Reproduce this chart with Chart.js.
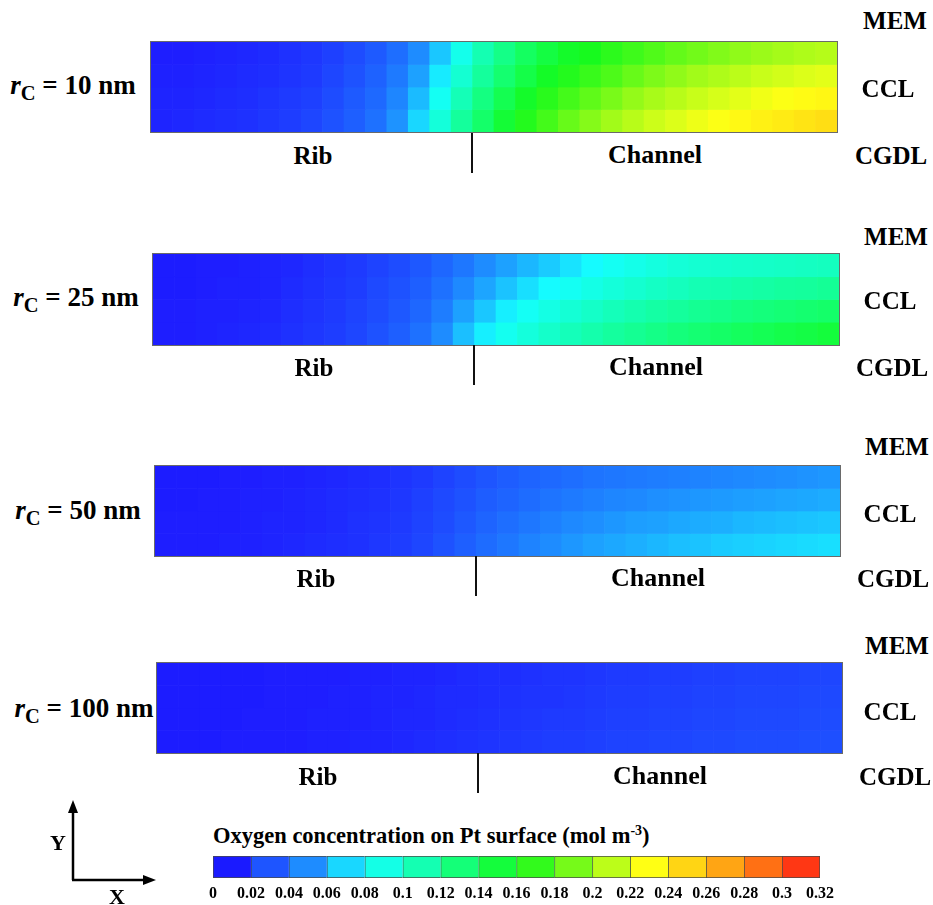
<!DOCTYPE html>
<html>
<head>
<meta charset="utf-8">
<script src="https://cdn.jsdelivr.net/npm/chart.js@4.4.0/dist/chart.umd.min.js"></script>
<style>
  body { margin: 0; background: #fff; width: 933px; height: 905px; position: relative; overflow: hidden;
         font-family: 'Liberation Serif', 'Times New Roman', serif; font-weight: bold; color: #000; }
  .t { position: absolute; transform: translate(-50%, -50%); white-space: nowrap; font-size: 25px; line-height: 1; }
  .t.lab { font-size: 27px; }
  .t sub { font-size: 0.76em; vertical-align: -0.3em; }
  .t.ch { font-size: 26px; }
  .strip { position: absolute; outline: 1px solid #6a6a6a; }
  .strip canvas { display: block; }
  .tick { position: absolute; width: 1.5px; height: 40px; background: #111; }
  #title { position: absolute; left: 213px; top: 823px; font-size: 22.5px; white-space: nowrap; }
  #title sup { font-size: 0.62em; vertical-align: 0.6em; line-height: 0; }
  #cbar { position: absolute; left: 193px; top: 850px; }
  #axes { position: absolute; left: 0; top: 0; }
</style>
</head>
<body>

<!-- strip 1 -->
<div class="t lab" style="left:73px;top:88px"><i>r</i><sub>C</sub> = 10 nm</div>
<div class="strip" style="left:151px;top:42px;width:686px;height:90px"><canvas id="s10" width="686" height="90"></canvas></div>
<div class="tick" style="left:471px;top:133px"></div>
<div class="t" style="left:313px;top:155px">Rib</div>
<div class="t ch" style="left:655px;top:155px">Channel</div>
<div class="t" style="left:895px;top:20px">MEM</div>
<div class="t" style="left:888px;top:88px">CCL</div>
<div class="t" style="left:891px;top:155px">CGDL</div>

<!-- strip 2 -->
<div class="t lab" style="left:76px;top:300px"><i>r</i><sub>C</sub> = 25 nm</div>
<div class="strip" style="left:153px;top:254px;width:686px;height:91px"><canvas id="s25" width="686" height="91"></canvas></div>
<div class="tick" style="left:473px;top:345px"></div>
<div class="t" style="left:314px;top:367px">Rib</div>
<div class="t ch" style="left:656px;top:367px">Channel</div>
<div class="t" style="left:896px;top:236px">MEM</div>
<div class="t" style="left:890px;top:300px">CCL</div>
<div class="t" style="left:892px;top:367px">CGDL</div>

<!-- strip 3 -->
<div class="t lab" style="left:78px;top:513px"><i>r</i><sub>C</sub> = 50 nm</div>
<div class="strip" style="left:155px;top:466px;width:685px;height:90px"><canvas id="s50" width="685" height="90"></canvas></div>
<div class="tick" style="left:475px;top:556px"></div>
<div class="t" style="left:316px;top:578px">Rib</div>
<div class="t ch" style="left:658px;top:578px">Channel</div>
<div class="t" style="left:897px;top:446px">MEM</div>
<div class="t" style="left:890px;top:513px">CCL</div>
<div class="t" style="left:893px;top:578px">CGDL</div>

<!-- strip 4 -->
<div class="t lab" style="left:84px;top:711px"><i>r</i><sub>C</sub> = 100 nm</div>
<div class="strip" style="left:157px;top:663px;width:685px;height:90px"><canvas id="s100" width="685" height="90"></canvas></div>
<div class="tick" style="left:477px;top:753px"></div>
<div class="t" style="left:318px;top:776px">Rib</div>
<div class="t ch" style="left:660px;top:776px">Channel</div>
<div class="t" style="left:897px;top:645px">MEM</div>
<div class="t" style="left:890px;top:711px">CCL</div>
<div class="t" style="left:895px;top:776px">CGDL</div>

<!-- coordinate indicator -->
<svg id="axes" width="200" height="905">
  <line x1="73" y1="880" x2="73" y2="810" stroke="#000" stroke-width="2.5"/>
  <polygon points="73,800 68,813 78,813" fill="#000"/>
  <line x1="72" y1="880" x2="146" y2="880" stroke="#000" stroke-width="2.5"/>
  <polygon points="156,880 143,875 143,885" fill="#000"/>
</svg>
<div class="t" style="left:58px;top:843px;font-size:22px">Y</div>
<div class="t" style="left:117px;top:897px;font-size:22px">X</div>

<div id="title">Oxygen concentration on Pt surface (mol m<sup>-3</sup>)</div>
<canvas id="cbar" width="650" height="56"></canvas>

<script>
// normalised position of each column centre across rib + channel
const columnX = [0.016, 0.047, 0.078, 0.109, 0.141, 0.172, 0.203, 0.234, 0.266, 0.297, 0.328, 0.359,
                 0.391, 0.422, 0.453, 0.484, 0.516, 0.547, 0.578, 0.609, 0.641, 0.672, 0.703, 0.734,
                 0.766, 0.797, 0.828, 0.859, 0.891, 0.922, 0.953, 0.984];
// row edges across the CCL thickness, CGDL side (0) to MEM side (1)
const rowEdges = [0, 0.25, 0.5, 0.75, 1];

// O2 concentration (mol m-3), rows listed MEM side first, CGDL side last
const o2_r10 = [
  [0.012,0.012,0.013,0.014,0.015,0.016,0.018,0.020,0.023,0.027,0.032,0.040,0.050,0.066,0.088,0.110,0.125,0.138,0.148,0.156,0.161,0.168,0.174,0.180,0.185,0.189,0.193,0.197,0.200,0.203,0.206,0.208],
  [0.013,0.013,0.014,0.015,0.016,0.017,0.019,0.021,0.025,0.029,0.035,0.044,0.056,0.075,0.098,0.118,0.133,0.146,0.157,0.165,0.172,0.179,0.186,0.192,0.197,0.202,0.206,0.210,0.214,0.217,0.220,0.222],
  [0.014,0.014,0.015,0.016,0.017,0.019,0.021,0.023,0.027,0.032,0.038,0.048,0.063,0.085,0.108,0.127,0.143,0.156,0.167,0.176,0.184,0.191,0.198,0.204,0.209,0.214,0.218,0.222,0.226,0.229,0.232,0.234],
  [0.014,0.015,0.016,0.017,0.018,0.020,0.022,0.025,0.029,0.034,0.041,0.052,0.070,0.095,0.118,0.135,0.152,0.165,0.176,0.186,0.194,0.202,0.209,0.215,0.220,0.225,0.229,0.233,0.237,0.240,0.243,0.246]
];
const o2_r25 = [
  [0.011,0.011,0.012,0.012,0.013,0.014,0.015,0.017,0.019,0.021,0.024,0.027,0.031,0.037,0.043,0.050,0.056,0.062,0.067,0.073,0.079,0.085,0.089,0.093,0.096,0.098,0.100,0.101,0.102,0.103,0.104,0.105],
  [0.011,0.011,0.012,0.013,0.013,0.014,0.016,0.018,0.020,0.022,0.026,0.029,0.034,0.041,0.049,0.057,0.065,0.072,0.079,0.085,0.090,0.095,0.099,0.103,0.106,0.109,0.111,0.113,0.115,0.117,0.118,0.120],
  [0.012,0.012,0.013,0.013,0.014,0.015,0.017,0.019,0.021,0.024,0.027,0.031,0.037,0.045,0.056,0.066,0.076,0.084,0.091,0.097,0.102,0.107,0.111,0.115,0.118,0.121,0.124,0.127,0.129,0.131,0.133,0.135],
  [0.012,0.012,0.013,0.014,0.015,0.016,0.018,0.020,0.022,0.025,0.029,0.034,0.041,0.050,0.064,0.076,0.086,0.094,0.101,0.107,0.112,0.117,0.121,0.125,0.129,0.132,0.136,0.139,0.142,0.145,0.147,0.150]
];
const o2_r50 = [
  [0.011,0.011,0.011,0.012,0.012,0.013,0.013,0.014,0.015,0.016,0.017,0.019,0.021,0.024,0.027,0.030,0.033,0.036,0.038,0.040,0.042,0.043,0.044,0.045,0.046,0.047,0.048,0.049,0.050,0.051,0.052,0.053],
  [0.011,0.011,0.012,0.012,0.013,0.013,0.014,0.015,0.016,0.017,0.018,0.020,0.023,0.026,0.029,0.033,0.036,0.039,0.042,0.044,0.046,0.048,0.049,0.051,0.052,0.053,0.054,0.055,0.056,0.057,0.058,0.059],
  [0.012,0.012,0.012,0.012,0.013,0.014,0.014,0.015,0.016,0.018,0.019,0.021,0.024,0.027,0.031,0.036,0.040,0.043,0.046,0.049,0.051,0.053,0.055,0.056,0.058,0.059,0.060,0.062,0.063,0.064,0.065,0.066],
  [0.012,0.012,0.012,0.013,0.013,0.014,0.015,0.016,0.017,0.018,0.020,0.022,0.025,0.029,0.034,0.039,0.043,0.047,0.050,0.053,0.056,0.058,0.060,0.062,0.064,0.065,0.067,0.068,0.069,0.070,0.071,0.072]
];
const o2_r100 = [
  [0.011,0.011,0.011,0.011,0.011,0.012,0.012,0.012,0.012,0.013,0.013,0.014,0.014,0.015,0.016,0.017,0.017,0.018,0.019,0.019,0.020,0.021,0.021,0.022,0.022,0.023,0.023,0.024,0.024,0.024,0.025,0.025],
  [0.011,0.011,0.011,0.011,0.011,0.012,0.012,0.012,0.013,0.013,0.014,0.014,0.015,0.016,0.016,0.017,0.018,0.019,0.019,0.020,0.021,0.022,0.022,0.023,0.023,0.024,0.024,0.025,0.025,0.025,0.026,0.026],
  [0.011,0.011,0.011,0.011,0.012,0.012,0.012,0.013,0.013,0.013,0.014,0.015,0.015,0.016,0.017,0.018,0.019,0.020,0.021,0.021,0.022,0.023,0.023,0.024,0.024,0.025,0.025,0.026,0.026,0.026,0.027,0.027],
  [0.011,0.011,0.011,0.012,0.012,0.012,0.012,0.013,0.013,0.014,0.014,0.015,0.016,0.017,0.018,0.019,0.020,0.021,0.022,0.022,0.023,0.024,0.024,0.025,0.025,0.026,0.026,0.027,0.027,0.027,0.028,0.028]
];

// colour bar levels
const cbLevels = [0, 0.02, 0.04, 0.06, 0.08, 0.1, 0.12, 0.14, 0.16, 0.18, 0.2, 0.22, 0.24, 0.26, 0.28, 0.3, 0.32];

// rainbow colour map (value -> rgb)
const cmap = [
  [0.000, 5, 5, 255], [0.012, 30, 30, 255], [0.020, 30, 55, 255], [0.030, 30, 85, 255],
  [0.040, 30, 110, 255], [0.050, 30, 140, 255], [0.060, 28, 175, 255], [0.070, 25, 215, 255],
  [0.080, 20, 255, 255], [0.100, 20, 255, 205], [0.120, 20, 255, 150], [0.140, 20, 255, 90],
  [0.160, 20, 250, 30], [0.180, 80, 250, 25], [0.200, 155, 250, 25], [0.220, 220, 255, 25],
  [0.230, 255, 255, 20], [0.240, 255, 235, 20], [0.260, 255, 190, 20], [0.280, 255, 140, 20],
  [0.300, 255, 85, 20], [0.320, 255, 25, 20]
];
function colorOf(v) {
  if (v <= cmap[0][0]) return `rgb(${cmap[0][1]},${cmap[0][2]},${cmap[0][3]})`;
  for (let i = 1; i < cmap.length; i++) {
    if (v <= cmap[i][0]) {
      const a = cmap[i - 1], b = cmap[i];
      const f = (v - a[0]) / (b[0] - a[0]);
      const c = [1, 2, 3].map(k => Math.round(a[k] + (b[k] - a[k]) * f));
      return `rgb(${c[0]},${c[1]},${c[2]})`;
    }
  }
  const l = cmap[cmap.length - 1];
  return `rgb(${l[1]},${l[2]},${l[3]})`;
}

function drawStrip(id, grid) {
  const n = grid.length;
  const datasets = grid.map((row, k) => {
    const r = n - 1 - k;
    return {
      data: row.map(() => [rowEdges[r], rowEdges[r + 1]]),
      backgroundColor: row.map(v => colorOf(v)),
      borderWidth: 0,
      barPercentage: 1,
      categoryPercentage: 1,
      grouped: false
    };
  });
  new Chart(document.getElementById(id), {
    type: 'bar',
    data: { labels: columnX, datasets: datasets },
    options: {
      responsive: false,
      animation: false,
      events: [],
      layout: { padding: 0 },
      plugins: { legend: { display: false }, tooltip: { enabled: false } },
      scales: {
        x: { display: false },
        y: { display: false, min: 0, max: 1 }
      }
    }
  });
}

drawStrip('s10', o2_r10);
drawStrip('s25', o2_r25);
drawStrip('s50', o2_r50);
drawStrip('s100', o2_r100);

// colour bar
const cbSets = cbLevels.slice(0, -1).map((lo, i) => {
  const hi = cbLevels[i + 1];
  return {
    data: [[lo, hi]],
    backgroundColor: colorOf((lo + hi) / 2),
    borderColor: '#4a4a4a',
    borderWidth: { top: 1, bottom: 1, left: 1, right: i === cbLevels.length - 2 ? 1 : 0 },
    borderSkipped: false,
    barPercentage: 1,
    categoryPercentage: 1,
    grouped: false
  };
});
new Chart(document.getElementById('cbar'), {
  type: 'bar',
  data: { labels: ['O2'], datasets: cbSets },
  options: {
    indexAxis: 'y',
    responsive: false,
    animation: false,
    events: [],
    layout: { padding: { left: 20, right: 23, top: 6, bottom: 0 } },
    plugins: { legend: { display: false }, tooltip: { enabled: false } },
    scales: {
      x: {
        type: 'linear', min: 0, max: 0.32,
        afterFit: s => { s.height = 28; },
        grid: { display: false, drawTicks: false },
        border: { display: false },
        ticks: {
          stepSize: 0.02, autoSkip: false, maxRotation: 0, padding: 6, color: '#000',
          font: { family: "'Liberation Serif', 'Times New Roman', serif", size: 16, weight: 'bold' },
          callback: v => String(+v.toFixed(2))
        }
      },
      y: { display: false }
    }
  }
});
</script>
</body>
</html>
